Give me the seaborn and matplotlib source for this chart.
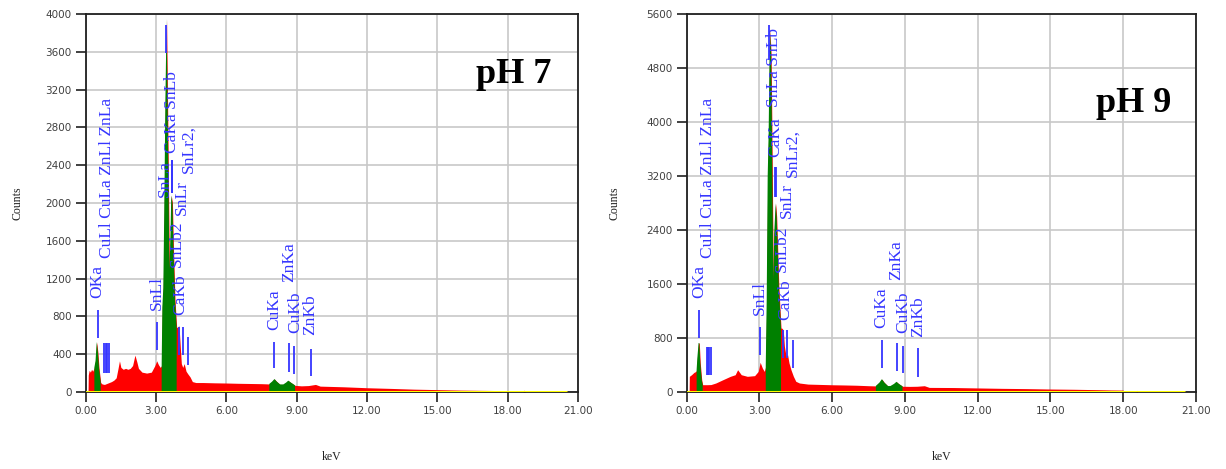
import numpy as np
import matplotlib
matplotlib.use("Agg")
import matplotlib.pyplot as plt
import seaborn as sns

# ---- pH 7 spectrum (outline) ----
ph7_energy = [0.00, 0.10, 0.11, 0.15, 0.20, 0.25, 0.30, 0.37, 0.42, 0.47, 0.52, 0.57, 0.64,
              0.70, 0.80, 0.90, 1.00, 1.10, 1.20, 1.30, 1.38, 1.44, 1.50, 1.60, 1.70, 1.80,
              1.90, 2.00, 2.10, 2.18, 2.25, 2.40, 2.60, 2.80, 2.95, 3.03, 3.10, 3.18, 3.24,
              3.27, 3.31, 3.35, 3.40, 3.45, 3.50, 3.54, 3.57, 3.61, 3.65, 3.70, 3.74, 3.81,
              3.88, 3.92, 3.98, 4.03, 4.08, 4.14, 4.20, 4.28, 4.36, 4.45, 4.55, 4.70, 5.00,
              5.50, 6.00, 6.50, 7.00, 7.50, 7.83, 7.95, 8.05, 8.15, 8.29, 8.43, 8.55, 8.64,
              8.75, 8.93, 9.20, 9.50, 9.80, 10.00, 11.00, 12.00, 13.00, 14.00, 15.00, 16.00,
              17.00, 17.70, 17.72, 18.65, 18.70, 18.75, 20.50]
ph7_counts = [0, 0, 180, 230, 210, 240, 220, 260, 330, 530, 420, 250, 100,
              85, 80, 90, 100, 110, 125, 150, 250, 330, 260, 240, 250, 240,
              250, 280, 390, 320, 250, 210, 200, 210, 280, 330, 290, 260, 280,
              900, 1100, 1900, 3100, 3950, 2900, 2000, 1300, 1600, 2080, 2000, 1550, 970,
              680, 690, 700, 500, 300, 260, 300, 220, 190, 160, 110, 100, 100,
              97, 95, 92, 90, 88, 85, 110, 137, 110, 80, 80, 100, 120,
              100, 70, 65, 68, 80, 62, 55, 45, 38, 30, 25, 20,
              17, 15, 0, 0, 20, 0, 0]
ph7_green = [(0.37, 0.64), (3.24, 3.88), (7.83, 8.29), (8.43, 8.93)]

ph7_line_energy = [0.51, 0.80, 0.87, 0.92, 1.01, 3.03, 3.43, 3.66, 3.69, 4.00, 4.17, 4.38,
                   8.04, 8.68, 8.90, 9.62]
ph7_line_low = [571, 201, 201, 201, 201, 444, 3587, 2106, 2106, 392, 392, 286,
                254, 212, 190, 169]
ph7_line_high = [868, 518, 518, 518, 518, 741, 3884, 2455, 2455, 688, 688, 582,
                 529, 518, 487, 455]

ph7_labels = ["OKa", "CuLl CuLa ZnLl ZnLa", "SnLl", "SnLa", "CaKa SnLb", "SnLb2", "CaKb",
              "SnLr", "SnLr2,", "CuKa", "ZnKa", "CuKb", "ZnKb"]
ph7_label_energy = [0.50, 0.90, 3.03, 3.38, 3.67, 3.88, 4.02, 4.10, 4.37, 8.05, 8.69, 8.93, 9.57]
ph7_label_base = [995, 1418, 868, 2063, 2529, 1323, 815, 1873, 2317, 656, 1164, 624, 603]

# ---- pH 9 spectrum ----
ph9_energy = [0.00, 0.10, 0.11, 0.20, 0.30, 0.38, 0.41, 0.44, 0.49, 0.52, 0.56, 0.62, 0.66,
              0.70, 0.85, 1.00, 1.20, 1.50, 1.80, 2.00, 2.10, 2.25, 2.50, 2.80, 2.95, 3.03,
              3.12, 3.20, 3.26, 3.30, 3.34, 3.38, 3.43, 3.48, 3.51, 3.54, 3.57, 3.61, 3.67,
              3.71, 3.75, 3.80, 3.89, 3.92, 3.98, 4.03, 4.10, 4.16, 4.22, 4.30, 4.40, 4.50,
              4.65, 5.00, 5.50, 6.00, 6.50, 7.00, 7.50, 7.80, 7.95, 8.05, 8.15, 8.30, 8.40,
              8.55, 8.65, 8.75, 8.90, 9.20, 9.50, 9.80, 10.00, 11.00, 12.00, 13.00, 14.00,
              15.00, 16.00, 17.00, 17.50, 18.00, 18.02, 18.52, 18.56, 18.60, 20.50]
ph9_counts = [0, 0, 232, 256, 290, 305, 330, 503, 725, 725, 430, 180, 108,
              108, 108, 110, 133, 183, 232, 256, 330, 256, 232, 242, 305, 440,
              355, 305, 380, 1366, 3190, 3830, 5390, 5017, 4055, 2900, 1660, 2353, 2797,
              2600, 2156, 1564, 947, 947, 922, 676, 528, 552, 430, 330, 232, 158,
              133, 117, 112, 107, 104, 100, 93, 90, 140, 190, 140, 88, 88,
              120, 151, 120, 85, 83, 85, 93, 68, 66, 60, 54, 50,
              44, 40, 34, 30, 28, 0, 0, 25, 0, 0]
ph9_green = [(0.41, 0.66), (3.26, 3.89), (7.80, 8.30), (8.40, 8.90)]

ph9_line_energy = [0.52, 0.82, 0.88, 0.93, 0.99, 3.02, 3.41, 3.66, 3.69, 3.98, 4.12, 4.37,
                   8.04, 8.66, 8.90, 9.54]
ph9_line_low = [800, 252, 252, 252, 252, 548, 4918, 2889, 2889, 504, 504, 355,
                355, 311, 281, 222]
ph9_line_high = [1215, 667, 667, 667, 667, 963, 5437, 3333, 3333, 918, 918, 770,
                 770, 726, 681, 652]

ph9_labels = ["OKa", "CuLl CuLa ZnLl ZnLa", "SnLl", "SnLa SnLb", "CaKa", "SnLb2", "CaKb",
              "SnLr", "SnLr2,", "CuKa", "ZnKa", "CuKb", "ZnKb"]
ph9_label_energy = [0.51, 0.89, 3.00, 3.60, 3.66, 3.92, 4.05, 4.12, 4.37, 8.04, 8.63, 8.91, 9.54]
ph9_label_base = [1388, 1980, 1140, 4227, 3486, 1783, 1067, 2573, 3190, 948, 1659, 874, 820]

x_ticks = [0, 3, 6, 9, 12, 15, 18, 21]
ph7_yticks = list(range(0, 4001, 400))
ph9_yticks = list(range(0, 5601, 800))

sns.set_theme(style="whitegrid")
plt.rcParams["font.family"] = ["DejaVu Sans"]

SERIF = ["Liberation Serif", "DejaVu Serif"]
BLUE = "#3535ff"


def draw_panel(ax, energy, counts, green, line_e, line_lo, line_hi,
               labels, label_e, label_base, yticks, ylabel_pad):
    energy = np.array(energy)
    counts = np.array(counts)
    mask = np.zeros(len(energy), dtype=bool)
    for a, b in green:
        mask |= (energy >= a - 1e-9) & (energy <= b + 1e-9)

    ax.fill_between(energy, 0, counts, color="#ff0000", linewidth=0, zorder=2)
    ax.fill_between(energy, 0, counts, where=mask, color="#008000", linewidth=0, zorder=3)
    sns.lineplot(x=energy, y=np.zeros(len(energy)), ax=ax, color="#ffff00",
                 linewidth=2.2, zorder=4)

    ax.vlines(line_e, line_lo, line_hi, colors=BLUE, linewidth=1.3, zorder=5)
    for t, e, b in zip(labels, label_e, label_base):
        ax.text(e, b, t, rotation=90, ha="center", va="bottom", color=BLUE,
                family=SERIF, fontsize=12.5, zorder=6)

    ax.set_xlim(0, 21)
    ax.set_ylim(0, yticks[-1])
    ax.set_xticks(x_ticks)
    ax.set_xticklabels([f"{v:.2f}" for v in x_ticks])
    ax.set_yticks(yticks)
    ax.set_yticklabels([str(v) for v in yticks])
    ax.grid(True, color="#c8c8c8", linewidth=1.2)
    ax.set_axisbelow(True)
    for s in ax.spines.values():
        s.set_visible(True)
        s.set_color("#202020")
        s.set_linewidth(1.3)
    ax.tick_params(axis="both", which="major", direction="out", length=7, width=1.2,
                   color="#202020", labelsize=7.5, labelcolor="#404040",
                   left=True, bottom=True, pad=3)
    ax.set_xlabel("keV", family=SERIF, fontsize=8.5, color="#202020", labelpad=25)
    ax.set_ylabel("Counts", family=SERIF, fontsize=8.5, color="#202020",
                  labelpad=ylabel_pad)
    return ax


fig = plt.figure(figsize=(12.26, 4.69), dpi=100)
ax1 = fig.add_axes([0.0699, 0.1642, 0.4016, 0.806])
ax2 = fig.add_axes([0.5601, 0.1642, 0.4154, 0.806])

draw_panel(ax1, ph7_energy, ph7_counts, ph7_green, ph7_line_energy, ph7_line_low,
           ph7_line_high, ph7_labels, ph7_label_energy, ph7_label_base, ph7_yticks, 16)
draw_panel(ax2, ph9_energy, ph9_counts, ph9_green, ph9_line_energy, ph9_line_low,
           ph9_line_high, ph9_labels, ph9_label_energy, ph9_label_base, ph9_yticks, 19)

fig.text(476 / 1226, 1 - 83 / 469, "pH 7", family=SERIF, fontweight="bold",
         fontsize=26, ha="left", va="baseline", color="black")
fig.text(1096 / 1226, 1 - 112 / 469, "pH 9", family=SERIF, fontweight="bold",
         fontsize=26, ha="left", va="baseline", color="black")

fig.savefig("out.png", dpi=100)
